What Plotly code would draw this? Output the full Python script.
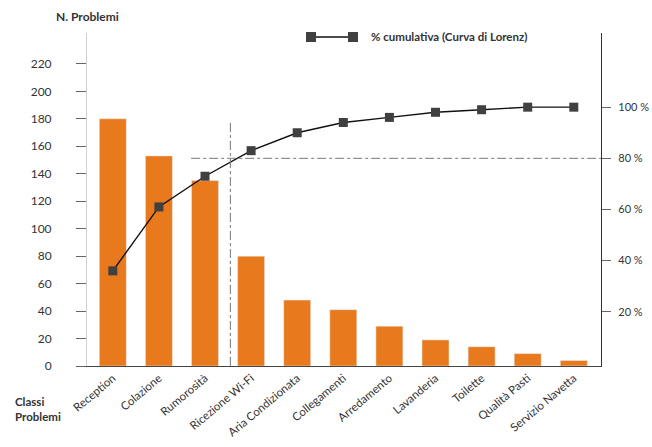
import plotly.graph_objects as go

# Problem classes and counts (Pareto analysis)
categories = ["Reception", "Colazione", "Rumorosità", "Ricezione Wi-Fi",
              "Aria Condizionata", "Collegamenti", "Arredamento", "Lavanderia",
              "Toilette", "Qualità Pasti", "Servizio Navetta"]
counts = [180, 153, 135, 80, 48, 41, 29, 19, 14, 9, 4]
cumulative_pct = [36, 61, 73, 83, 90, 94, 96, 98, 99, 100, 100]

left_ticks = list(range(0, 240, 20))
right_ticks = [20, 40, 60, 80, 100]
right_labels = [f"{v} %" for v in right_ticks]

BAR = "#E8791C"
MARK = "#404040"
TXT = "#333333"
FONT = "Lato"

W, H = 652, 447
L, R, T, B = 87, 51, 33, 81


def px(xp):
    return (xp - L) / (W - L - R)


def py(yp):
    return (H - B - yp) / (H - T - B)


fig = go.Figure()
fig.add_trace(go.Bar(x=categories, y=counts, marker_color=BAR, width=0.585,
                     showlegend=False, hoverinfo="x+y"))
fig.add_trace(go.Scatter(x=categories, y=cumulative_pct, yaxis="y2",
                         mode="lines+markers",
                         line=dict(color="#111111", width=1.4),
                         marker=dict(symbol="square", size=9, color=MARK),
                         name="% cumulativa (Curva di Lorenz)", showlegend=False))

# 80% reference lines (dash-dot)
fig.add_shape(type="line", xref="x", yref="y", x0=2.55, x1=2.55, y0=0, y1=177,
              line=dict(color="#777777", width=1, dash="dashdot"))
fig.add_shape(type="line", xref="x", yref="y2", x0=1.7, x1=10.59, y0=80, y1=80,
              line=dict(color="#777777", width=1, dash="dashdot"))

# Legend drawn as line with two square markers
ly = py(37)
fig.add_shape(type="line", xref="paper", yref="paper", x0=px(311), x1=px(353),
              y0=ly, y1=ly, line=dict(color="#111111", width=1.4))
for cx in (311, 353):
    fig.add_shape(type="rect", xref="paper", yref="paper",
                  x0=px(cx - 5), x1=px(cx + 5), y0=py(42), y1=py(32),
                  fillcolor=MARK, line=dict(width=0))
fig.add_annotation(xref="paper", yref="paper", x=px(369), y=py(36),
                   xanchor="left", yanchor="middle", showarrow=False,
                   text="<b>% cumulativa (Curva di Lorenz)</b>",
                   font=dict(family=FONT, size=11.5, color=TXT))

fig.add_annotation(xref="paper", yref="paper", x=px(54), y=py(17),
                   xanchor="left", yanchor="middle", showarrow=False,
                   text="<b>N. Problemi</b>", font=dict(family=FONT, size=12, color=TXT))
fig.add_annotation(xref="paper", yref="paper", x=px(13), y=py(409),
                   xanchor="left", yanchor="middle", showarrow=False, align="left",
                   text="<b>Classi<br>Problemi</b>",
                   font=dict(family=FONT, size=11.5, color=TXT))

fig.update_layout(
    width=W, height=H,
    margin=dict(l=L, r=R, t=T, b=B, autoexpand=False),
    paper_bgcolor="white", plot_bgcolor="white",
    font=dict(family=FONT, size=12, color=TXT),
    bargap=0.4,
    xaxis=dict(type="category", range=[-0.56, 10.59], tickangle=-40,
               showline=True, linecolor="#444444", linewidth=1.2,
               ticks="", showgrid=False, automargin=False,
               tickfont=dict(size=11.5, color=TXT)),
    yaxis=dict(range=[0, 242.5], tickvals=left_ticks, showgrid=False,
               zeroline=False, showline=True, linecolor="#d0d0d0", linewidth=1,
               ticks="outside", ticklen=10, tickcolor="#666666", automargin=False,
               ticklabelstandoff=22, tickfont=dict(size=12, color=TXT)),
    yaxis2=dict(overlaying="y", side="right", range=[-1.2, 129],
                tickvals=right_ticks, ticktext=right_labels, showgrid=False,
                zeroline=False, showline=True, linecolor="#333333", linewidth=1.2,
                ticks="outside", ticklen=9, tickcolor="#666666", automargin=False,
                ticklabelstandoff=5, tickfont=dict(size=11, color=TXT)),
)

fig.write_html("out.html")
